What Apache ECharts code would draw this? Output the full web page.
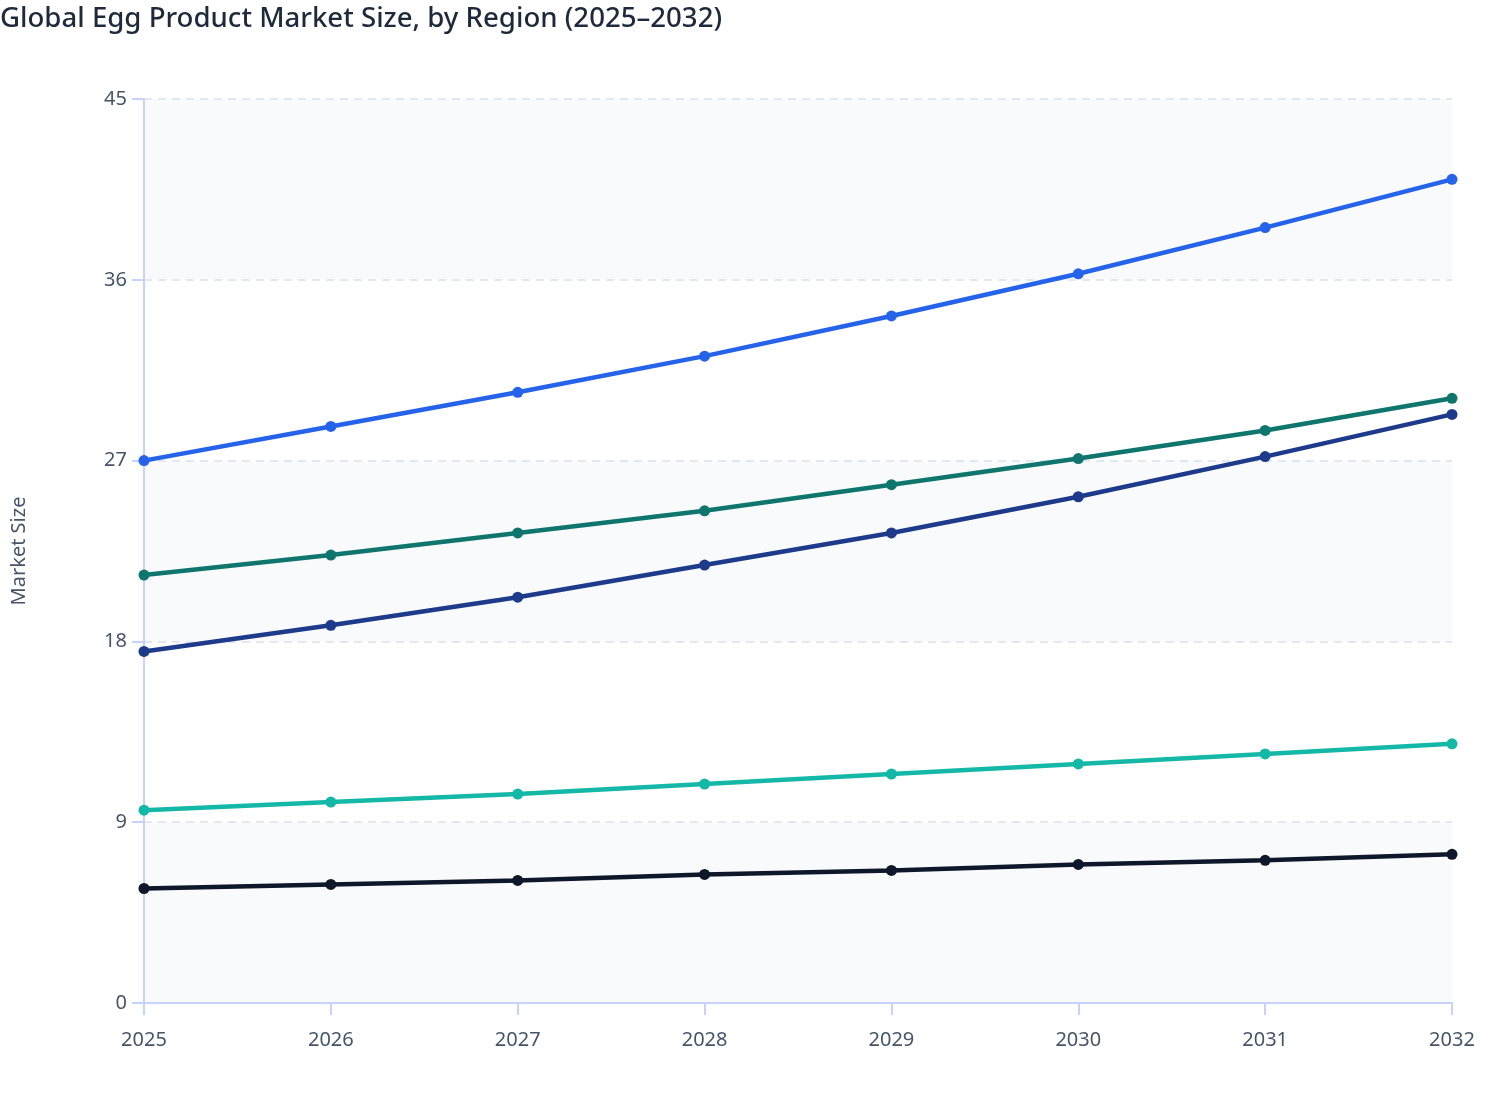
<!DOCTYPE html>
<html>
<head>
<meta charset="utf-8">
<script src="https://cdn.jsdelivr.net/npm/echarts@6/dist/echarts.min.js"></script>
<style>
html,body{margin:0;padding:0;background:#fff;}
#chart{width:1508px;height:1120px;}
</style>
</head>
<body>
<div id="chart"></div>
<script>
const years = ['2025','2026','2027','2028','2029','2030','2031','2032'];
const yTicks = [0, 9, 18, 27, 36, 45];
const asiaPacific = [27.0, 28.7, 30.4, 32.2, 34.2, 36.3, 38.6, 41.0];
const europe = [21.3, 22.3, 23.4, 24.5, 25.8, 27.1, 28.5, 30.1];
const northAmerica = [17.5, 18.8, 20.2, 21.8, 23.4, 25.2, 27.2, 29.3];
const latinAmerica = [9.6, 10.0, 10.4, 10.9, 11.4, 11.9, 12.4, 12.9];
const middleEastAfrica = [5.7, 5.9, 6.1, 6.4, 6.6, 6.9, 7.1, 7.4];

const seriesDefs = [
  {name: 'Asia Pacific', data: asiaPacific, color: '#2563eb'},
  {name: 'Europe', data: europe, color: '#0f766e'},
  {name: 'North America', data: northAmerica, color: '#1e3a8a'},
  {name: 'Latin America', data: latinAmerica, color: '#14b8a6'},
  {name: 'Middle East & Africa', data: middleEastAfrica, color: '#0f172a'}
];

const chart = echarts.init(document.getElementById('chart'));
chart.setOption({
  backgroundColor: '#ffffff',
  textStyle: {fontFamily: 'Noto Sans'},
  title: {
    text: 'Global Egg Product Market Size, by Region (2025–2032)',
    left: 0, top: 0, padding: [5, 0, 0, 0],
    textStyle: {fontFamily: 'Noto Sans', fontSize: 27.6, fontWeight: 500, color: '#1e293b'}
  },
  tooltip: {trigger: 'axis'},
  grid: {left: 144, right: 56, top: 99, bottom: 117},
  xAxis: {
    type: 'category',
    data: years,
    boundaryGap: false,
    axisLine: {lineStyle: {color: '#c7d2fe', width: 2}},
    axisTick: {show: true, length: 12, lineStyle: {color: '#c7d2fe', width: 2}},
    axisLabel: {color: '#475569', fontSize: 20, margin: 27},
    splitLine: {show: false}
  },
  yAxis: {
    type: 'value',
    min: yTicks[0], max: yTicks[yTicks.length - 1], interval: 9,
    name: 'Market Size',
    nameLocation: 'middle',
    nameGap: 115,
    nameTextStyle: {color: '#475569', fontSize: 20},
    axisLine: {show: true, lineStyle: {color: '#c7d2fe', width: 2}},
    axisTick: {show: true, length: 12, lineStyle: {color: '#c7d2fe', width: 2}},
    axisLabel: {color: '#475569', fontSize: 20, margin: 17},
    splitLine: {show: true, lineStyle: {color: '#e2e8f0', type: [8, 6], width: 2}},
    splitArea: {show: true, areaStyle: {color: ['#f8fafc', '#ffffff']}}
  },
  series: seriesDefs.map(s => ({
    name: s.name,
    type: 'line',
    data: s.data,
    symbol: 'circle',
    symbolSize: 11,
    lineStyle: {width: 4.5, color: s.color},
    itemStyle: {color: s.color},
    z: 3
  }))
});
</script>
</body>
</html>
